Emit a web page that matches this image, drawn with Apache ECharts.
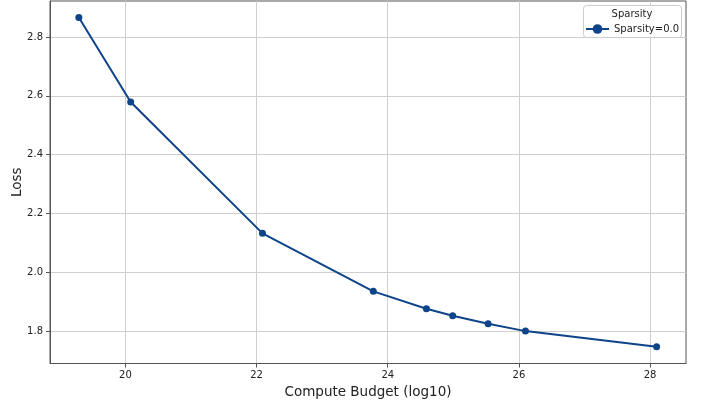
<!DOCTYPE html>
<html>
<head>
<meta charset="utf-8">
<script src="https://cdn.jsdelivr.net/npm/echarts@6/dist/echarts.min.js"></script>
<style>
  html, body { margin: 0; padding: 0; background: #fff; }
  #chart { width: 701px; height: 405px; }
</style>
</head>
<body>
<div id="chart"></div>
<script>
// Compute budget (log10 FLOPs) vs. final loss, one sparsity setting
const computeBudget = [19.29, 20.08, 22.09, 23.78, 24.59, 24.99, 25.53, 26.10, 28.10];
const lossValues    = [2.866, 2.579, 2.133, 1.936, 1.877, 1.853, 1.826, 1.801, 1.748];
const xTicks = [20, 22, 24, 26, 28];
const yTicks = [1.8, 2.0, 2.2, 2.4, 2.6, 2.8];
const seriesName = 'Sparsity=0.0';
const legendTitle = 'Sparsity';

const FONT = 'DejaVu Sans';
const LINE_BLUE = '#0e4489';
const AXIS_GRAY = '#555';
const GRID_GRAY = '#cfcfcf';

const chart = echarts.init(document.getElementById('chart'), null, { renderer: 'canvas' });

chart.setOption({
  animation: false,
  backgroundColor: '#fff',
  textStyle: { fontFamily: FONT },
  grid: {
    left: 50, right: 15, top: 1, bottom: 41.5,
    show: true, borderColor: AXIS_GRAY, borderWidth: 1,
    containLabel: false,
    outerBoundsMode: 'none'
  },
  title: {
    text: legendTitle,
    left: 632, top: 9,
    textAlign: 'center',
    padding: 0,
    textStyle: { fontFamily: FONT, fontSize: 10, fontWeight: 'normal', color: '#222' },
    z: 8
  },
  graphic: [{
    type: 'rect',
    z: 5,
    shape: { x: 583.5, y: 5.5, width: 98, height: 32, r: 3 },
    style: { fill: 'rgba(255,255,255,0.85)', stroke: '#cccccc', lineWidth: 1 }
  }],
  legend: {
    data: [seriesName],
    left: 585, top: 24,
    itemWidth: 23, itemHeight: 12, itemGap: 5,
    padding: 0,
    textStyle: { fontFamily: FONT, fontSize: 10, color: '#222', padding: [0, 0, 0, 0] },
    z: 8
  },
  xAxis: {
    type: 'value',
    min: 18.85, max: 28.548,
    name: 'Compute Budget (log10)',
    nameLocation: 'middle',
    nameGap: 22,
    nameMoveOverlap: false,
    nameTextStyle: { fontFamily: FONT, fontSize: 13.5, color: '#222' },
    axisLine: { show: true, onZero: false, lineStyle: { color: AXIS_GRAY, width: 1 } },
    axisTick: { show: true, inside: false, length: 4, customValues: xTicks, lineStyle: { color: AXIS_GRAY } },
    axisLabel: { customValues: xTicks, margin: 7, fontFamily: FONT, fontSize: 10, color: '#222' },
    splitLine: { show: true, lineStyle: { color: GRID_GRAY, width: 1 } }
  },
  yAxis: {
    type: 'value',
    min: 1.691, max: 2.922,
    name: 'Loss',
    nameLocation: 'middle',
    nameGap: 26,
    nameMoveOverlap: false,
    nameTextStyle: { fontFamily: FONT, fontSize: 13.5, color: '#222' },
    axisLine: { show: true, onZero: false, lineStyle: { color: AXIS_GRAY, width: 1 } },
    axisTick: { show: true, inside: false, length: 4, customValues: yTicks, lineStyle: { color: AXIS_GRAY } },
    axisLabel: {
      customValues: yTicks, margin: 7, fontFamily: FONT, fontSize: 10, color: '#222',
      formatter: v => v.toFixed(1)
    },
    splitLine: { show: true, lineStyle: { color: GRID_GRAY, width: 1 } }
  },
  series: [{
    name: seriesName,
    type: 'line',
    data: computeBudget.map((x, i) => [x, lossValues[i]]),
    symbol: 'circle',
    symbolSize: 7,
    showSymbol: true,
    lineStyle: { color: LINE_BLUE, width: 2 },
    itemStyle: { color: LINE_BLUE },
    z: 3
  }]
});
</script>
</body>
</html>
